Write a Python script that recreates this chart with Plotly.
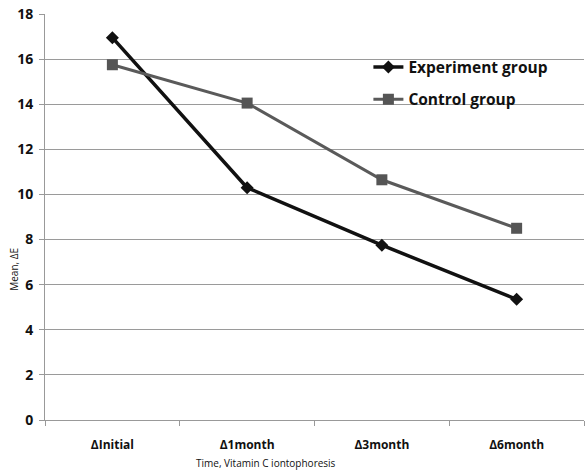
import plotly.graph_objects as go

categories = ["ΔInitial", "Δ1month", "Δ3month", "Δ6month"]
experiment = [16.95, 10.3, 7.75, 5.35]
control = [15.75, 14.05, 10.65, 8.5]
y_ticks = [0, 2, 4, 6, 8, 10, 12, 14, 16, 18]

fig = go.Figure()
fig.add_trace(go.Scatter(
    x=categories, y=experiment, name="Experiment group", mode="lines+markers",
    legendgroup="a",
    line=dict(color="#111111", width=3.5),
    marker=dict(symbol="diamond", size=10, color="#111111"),
))
fig.add_trace(go.Scatter(
    x=categories, y=control, name="Control group", mode="lines+markers",
    legendgroup="b",
    line=dict(color="#5a5a5a", width=3),
    marker=dict(symbol="square", size=11, color="#555555"),
))

fig.update_layout(
    width=587, height=474,
    margin=dict(l=45, r=3, t=14, b=54, autoexpand=False),
    paper_bgcolor="white", plot_bgcolor="white",
    font=dict(family="Open Sans, DejaVu Sans, sans-serif", color="#111111"),
    showlegend=True,
    legend=dict(
        x=0.6, y=0.91, xanchor="left", yanchor="top",
        bgcolor="rgba(0,0,0,0)",
        font=dict(size=15.5, family="Open Sans, sans-serif", weight="bold"),
        traceorder="grouped", tracegroupgap=9, itemwidth=30,
    ),
    xaxis=dict(
        type="category", tickson="boundaries", automargin=False,
        ticks="outside", ticklen=5, tickcolor="#999999",
        showline=True, linecolor="#999999", linewidth=1,
        showgrid=False,
        tickfont=dict(size=12, weight="bold"),
        ticklabelstandoff=14,
        range=[-0.5, 3.5],
    ),
    yaxis=dict(
        range=[0, 18], tickvals=y_ticks, automargin=False,
        ticks="outside", ticklen=5, tickcolor="#999999",
        showline=True, linecolor="#999999", linewidth=1,
        showgrid=True, gridcolor="#9a9a9a", gridwidth=1,
        tickfont=dict(size=14, weight="bold"),
        ticklabelstandoff=3,
        zeroline=False,
    ),
    annotations=[
        dict(text="Mean, ΔE", x=-(45 - 14) / 539, y=0.37, xref="paper", yref="paper",
             showarrow=False, textangle=-90, font=dict(size=10),
             xanchor="center", yanchor="middle"),
        dict(text="Time, Vitamin C iontophoresis", x=0.41, y=-0.107,
             xref="paper", yref="paper", showarrow=False,
             font=dict(size=10), xanchor="center", yanchor="middle"),
    ],
)

fig.write_html("out.html", config={"displayModeBar": False},
               post_script="document.body.style.margin='0';")
